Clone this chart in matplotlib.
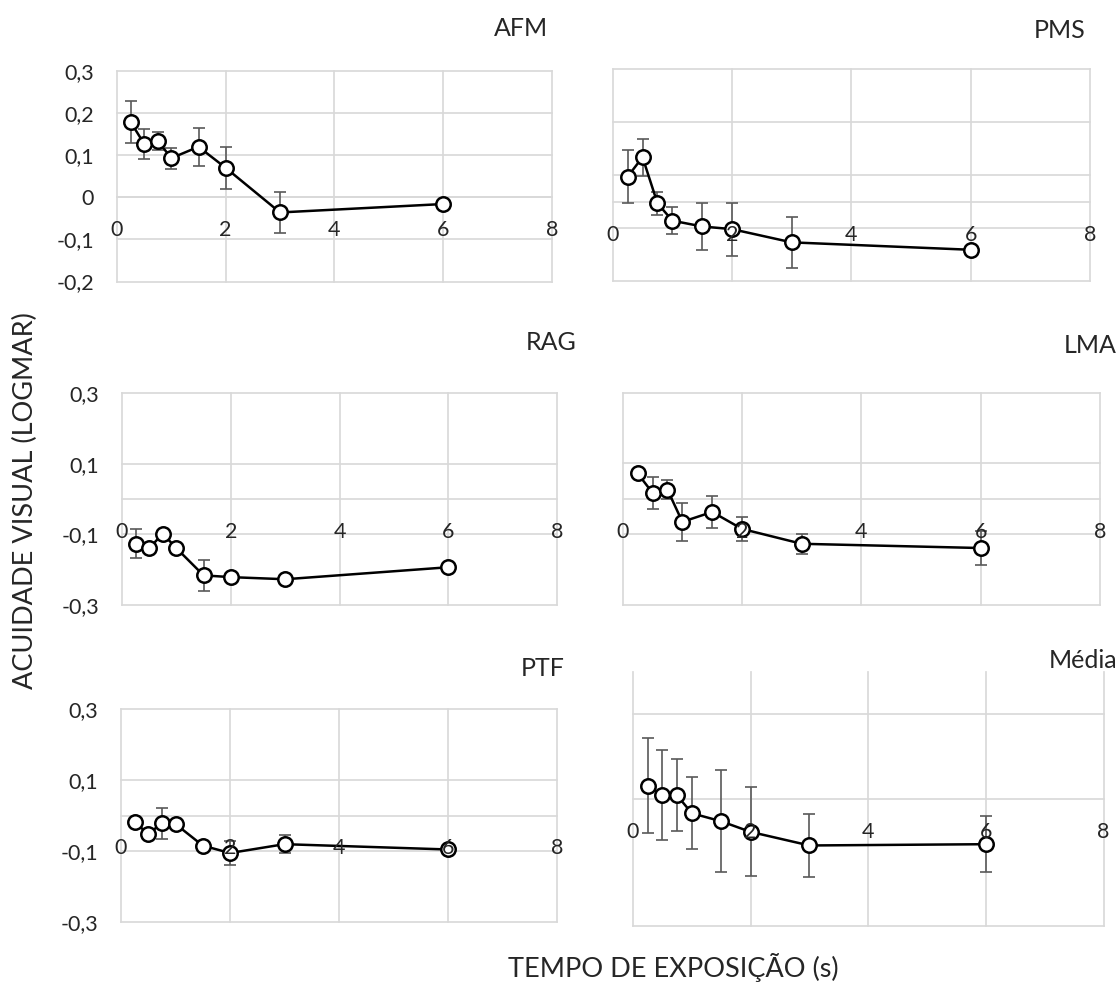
import matplotlib
import matplotlib.pyplot as plt
matplotlib.use('Agg')

plt.rcParams['font.family'] = ['Lato', 'DejaVu Sans']

# Tempos de exposição (s)
tempos = [0.25, 0.5, 0.75, 1, 1.5, 2, 3, 6]

# Acuidade visual (logMAR) e barras de erro por sujeito
afm = [0.179, 0.127, 0.134, 0.093, 0.120, 0.070, -0.036, -0.016]
afm_err = [0.050, 0.035, 0.022, 0.025, 0.045, 0.050, 0.048, 0.0]
pms = [0.047, 0.084, -0.003, -0.036, -0.047, -0.052, -0.077, -0.091]
pms_err = [0.050, 0.035, 0.022, 0.025, 0.045, 0.050, 0.048, 0.005]
rag = [-0.127, -0.139, -0.098, -0.139, -0.216, -0.221, -0.227, -0.193]
rag_err = [0.041, 0.0, 0.0, 0.0, 0.044, 0.0, 0.0, 0.0]
lma = [0.072, 0.017, 0.026, -0.065, -0.037, -0.085, -0.127, -0.139]
lma_err = [0.0, 0.045, 0.026, 0.053, 0.046, 0.033, 0.028, 0.047]
ptf = [-0.019, -0.052, -0.022, -0.024, -0.085, -0.106, -0.081, -0.096]
ptf_err = [0.0, 0.0, 0.043, 0.0, 0.0, 0.034, 0.025, 0.0]
media = [0.031, 0.009, 0.008, -0.034, -0.053, -0.078, -0.110, -0.107]
media_err = [0.112, 0.106, 0.085, 0.085, 0.120, 0.105, 0.074, 0.066]

x_ticks = [0, 2, 4, 6, 8]

W, H = 1120, 982
GRID = '#d9d9d9'
TXT = '#262626'

fig = plt.figure(figsize=(W / 100, H / 100), dpi=100)


def painel(caixa, vals, errs, ylim, grade_y, y_ticks, y_labels, titulo, pos_titulo):
    l, t, r, b = caixa
    ax = fig.add_axes([l / W, 1 - b / H, (r - l) / W, (b - t) / H])
    ax.set_xlim(0, 8)
    ax.set_ylim(*ylim)

    # Linhas de grade
    for gx in x_ticks:
        ax.axvline(gx, color=GRID, lw=1.25, zorder=0, clip_on=False)
    for gy in grade_y:
        ax.axhline(gy, color=GRID, lw=1.25, zorder=0, clip_on=False)

    for s in ['left', 'right', 'top']:
        ax.spines[s].set_visible(False)
    ax.spines['bottom'].set_position(('data', 0))
    ax.spines['bottom'].set_color(GRID)
    ax.spines['bottom'].set_linewidth(1.25)
    ax.spines['bottom'].set_zorder(0)

    ax.set_xticks(x_ticks, [str(v) for v in x_ticks])
    ax.set_yticks(y_ticks, y_labels)
    ax.tick_params(length=0, labelsize=15.5, labelcolor=TXT)
    ax.tick_params(axis='x', pad=16.5)
    ax.tick_params(axis='y', pad=16.5)
    ax.xaxis.set_zorder(6)

    ax.errorbar(tempos, vals, yerr=errs, fmt='none', ecolor='#595959',
                elinewidth=1.2, capsize=4.2, capthick=1.2, zorder=3)
    ax.plot(tempos, vals, color='black', lw=1.8, marker='o', ms=10.4,
            mfc='white', mec='black', mew=1.8, zorder=4, clip_on=False)

    fig.text(pos_titulo[0] / W, 1 - pos_titulo[1] / H, titulo, ha='right',
             va='center', fontsize=18, color=TXT)
    return ax


lab_afm = ['-0,2', '-0,1', '0', '0,1', '0,2', '0,3']
lab_3 = ['-0,3', '-0,1', '0,1', '0,3']

painel((117, 71, 551.7, 281.5), afm, afm_err, (-0.2, 0.3),
       [-0.2, -0.1, 0, 0.1, 0.2, 0.3], [-0.2, -0.1, 0, 0.1, 0.2, 0.3], lab_afm,
       'AFM', (548, 28))
painel((612.7, 69.3, 1090, 281), pms, pms_err, (-0.15, 0.25),
       [-0.15, -0.05, 0.05, 0.15, 0.25], [], [], 'PMS', (1085, 31))
painel((122, 393.3, 557, 605), rag, rag_err, (-0.3, 0.3),
       [-0.3, -0.1, 0.1, 0.3], [-0.3, -0.1, 0.1, 0.3], lab_3, 'RAG', (577, 343))
painel((622.7, 392.7, 1100, 605), lma, lma_err, (-0.3, 0.3),
       [-0.3, -0.1, 0.1, 0.3], [], [], 'LMA', (1117, 346))
painel((121, 709.3, 557, 921.7), ptf, ptf_err, (-0.3, 0.3),
       [-0.3, -0.1, 0.1, 0.3], [-0.3, -0.1, 0.1, 0.3], lab_3, 'PTF', (565, 668))
painel((633, 671.7, 1103.5, 926), media, media_err, (-0.3, 0.3),
       [-0.3, 0.2], [], [], 'Média', (1117, 660))

fig.text(25 / W, 1 - 501 / H, 'ACUIDADE VISUAL (LOGMAR)', rotation=90,
         ha='center', va='center', fontsize=19.5, color=TXT)
fig.text(508 / W, 1 - 967 / H, 'TEMPO DE EXPOSIÇÃO (s)', ha='left',
         va='center', fontsize=19.5, color=TXT)

fig.savefig('out.png', dpi=100)
